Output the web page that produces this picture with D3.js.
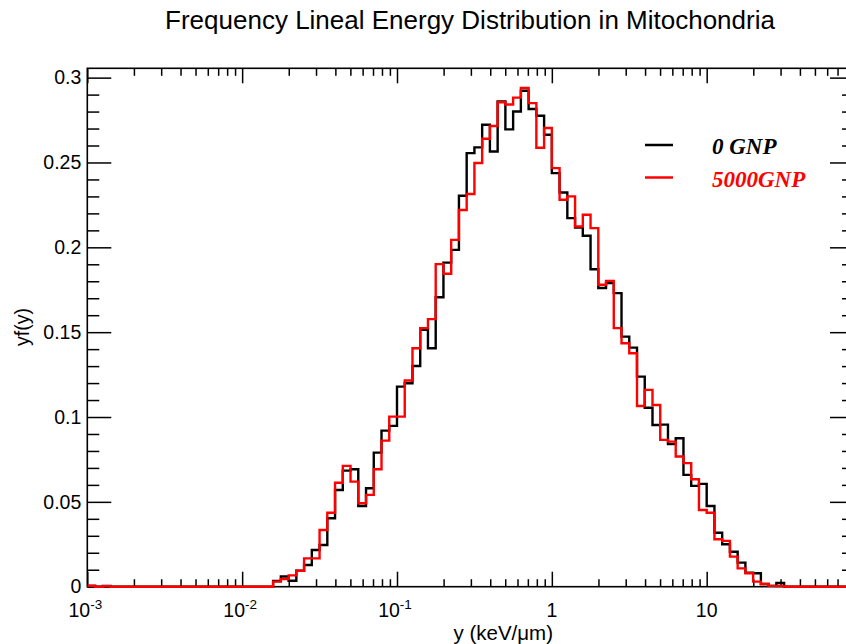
<!DOCTYPE html>
<html>
<head>
<meta charset="utf-8">
<script src="https://cdn.jsdelivr.net/npm/d3@7"></script>
<style>
  html, body { margin: 0; padding: 0; background: #fff; }
  svg { display: block; }
</style>
</head>
<body>
<div id="chart"></div>
<script>
// ---------------- data ----------------
const chartTitle = "Frequency Lineal Energy Distribution in Mitochondria";
const xTitle = "y (keV/\u03bcm)";
const yTitle = "yf(y)";
const xDomain = [0.001, 89.4];
const yDomain = [0, 0.3055];
const firstBinLowEdge = 0.001;
const binsPerDecade = 20;

// bin contents (bin 0 starts at 1e-3, 20 log bins per decade)
const gnp0 = [
  0.0005, 0, 0.0005, 0, 0, 0, 0, 0, 0, 0,
  0, 0, 0, 0, 0, 0, 0, 0, 0, 0,
  0, 0, 0, 0, 0.0034, 0.006, 0.0035, 0.0094, 0.0128, 0.0216,
  0.0246, 0.0403, 0.057, 0.0684, 0.0692, 0.0476, 0.058, 0.079, 0.092, 0.0948,
  0.1179, 0.1199, 0.1301, 0.1514, 0.1405, 0.1706, 0.191, 0.1985, 0.2304, 0.2555,
  0.2589, 0.2722, 0.2565, 0.286, 0.2695, 0.280, 0.2923, 0.2815, 0.2775, 0.2663,
  0.2437, 0.2323, 0.2172, 0.2117, 0.2068, 0.1871, 0.176, 0.1789, 0.173, 0.1474,
  0.1409, 0.1238, 0.1055, 0.0953, 0.0955, 0.084, 0.0875, 0.0659, 0.0594, 0.0606,
  0.0476, 0.0318, 0.025, 0.0206, 0.0142, 0.0083, 0.0079, 0.0016, 0.0005, 0.0022,
  0, 0, 0, 0, 0, 0, 0, 0, 0, 0
];
const gnp5000 = [
  0.0006, 0, 0.0003, 0, 0, 0, 0, 0, 0, 0,
  0, 0, 0, 0, 0, 0, 0, 0, 0, 0,
  0, 0, 0, 0, 0.003, 0.0045, 0.0067, 0.0094, 0.0167, 0.0167,
  0.0334, 0.0436, 0.0613, 0.0712, 0.0619, 0.0492, 0.0541, 0.0692, 0.0861, 0.1002,
  0.1002, 0.1215, 0.1405, 0.1524, 0.1577, 0.1901, 0.1844, 0.2044, 0.222, 0.2314,
  0.2497, 0.264, 0.2715, 0.2855, 0.2842, 0.2882, 0.2939, 0.285, 0.2587, 0.2703,
  0.2467, 0.228, 0.23, 0.2123, 0.2192, 0.2113, 0.1779, 0.1802, 0.1524, 0.1435,
  0.1376, 0.1065, 0.116, 0.1071, 0.0865, 0.0855, 0.0767, 0.0728, 0.0633, 0.0452,
  0.0436, 0.028, 0.027, 0.0177, 0.0108, 0.0079, 0.003, 0.0016, 0.0005, 0.0004,
  0, 0, 0, 0, 0, 0, 0, 0, 0, 0
];
const seriesNames = ["0 GNP", "5000GNP"];
const seriesColors = ["#000000", "#ff0000"];

const yMajorTicks = [0, 0.05, 0.1, 0.15, 0.2, 0.25, 0.3];
const yTickLabels = ["0", "0.05", "0.1", "0.15", "0.2", "0.25", "0.3"];
const yMinorTicks = [0.01,0.02,0.03,0.04,0.06,0.07,0.08,0.09,0.11,0.12,0.13,0.14,0.16,0.17,0.18,0.19,0.21,0.22,0.23,0.24,0.26,0.27,0.28,0.29];
const xMajorTicks = [0.001, 0.01, 0.1, 1, 10];
const xTickBase = ["10", "10", "10", "1", "10"];
const xTickSup = ["-3", "-2", "-1", "", ""];
const xMinorMultipliers = [2, 3, 4, 5, 6, 7, 8, 9];

// ---------------- layout ----------------
const W = 846, H = 644;
const L = 87.3, R = 854, T = 68.3, B = 586.7;
const SANS = "'Liberation Sans', Arial, Helvetica, sans-serif";
const SERIF = "'Liberation Serif', 'Times New Roman', Times, serif";

const svg = d3.select("#chart").append("svg")
  .attr("width", W).attr("height", H)
  .attr("viewBox", `0 0 ${W} ${H}`);

const x = d3.scaleLog().domain(xDomain).range([L, R]);
const y = d3.scaleLinear().domain(yDomain).range([B, T]);

const xMinorTicks = [];
xMajorTicks.forEach(d => xMinorMultipliers.forEach(m => {
  const v = d * m;
  if (v < xDomain[1]) xMinorTicks.push(v);
}));

// title
svg.append("text")
  .attr("x", 470).attr("y", 29)
  .attr("text-anchor", "middle")
  .style("font-family", SANS)
  .style("font-size", "26px")
  .attr("fill", "#000")
  .text(chartTitle);

// clip region for histograms
svg.append("defs").append("clipPath").attr("id", "plotclip")
  .append("rect").attr("x", L).attr("y", T - 2).attr("width", R - L).attr("height", B - T + 4);

// frame
svg.append("rect")
  .attr("x", L).attr("y", T).attr("width", R - L).attr("height", B - T)
  .attr("fill", "none").attr("stroke", "#000").attr("stroke-width", 1.6);

function styleAxis(g) {
  g.select(".domain").remove();
  g.selectAll(".tick line").attr("stroke", "#000").attr("stroke-width", 1.5);
}

// left axis (major)
svg.append("g").attr("transform", `translate(${L},0)`)
  .call(d3.axisLeft(y).tickValues(yMajorTicks).tickSize(-24).tickSizeOuter(0).tickPadding(6)
    .tickFormat((d, i) => yTickLabels[i]))
  .call(styleAxis)
  .call(g => g.selectAll("text").attr("fill", "#000")
    .style("font-family", SANS).style("font-size", "19.5px"));
// left minor
svg.append("g").attr("transform", `translate(${L},0)`)
  .call(d3.axisLeft(y).tickValues(yMinorTicks).tickSize(-12).tickSizeOuter(0).tickFormat(""))
  .call(styleAxis);
// right axis
svg.append("g").attr("transform", `translate(${R},0)`)
  .call(d3.axisRight(y).tickValues(yMajorTicks).tickSize(-24).tickSizeOuter(0).tickFormat(""))
  .call(styleAxis);
svg.append("g").attr("transform", `translate(${R},0)`)
  .call(d3.axisRight(y).tickValues(yMinorTicks).tickSize(-12).tickSizeOuter(0).tickFormat(""))
  .call(styleAxis);

// bottom axis
svg.append("g").attr("transform", `translate(0,${B})`)
  .call(d3.axisBottom(x).tickValues(xMajorTicks).tickSize(-15).tickSizeOuter(0).tickFormat(""))
  .call(styleAxis);
svg.append("g").attr("transform", `translate(0,${B})`)
  .call(d3.axisBottom(x).tickValues(xMinorTicks).tickSize(-7.5).tickSizeOuter(0).tickFormat(""))
  .call(styleAxis);
// top axis
svg.append("g").attr("transform", `translate(0,${T})`)
  .call(d3.axisTop(x).tickValues(xMajorTicks).tickSize(-15).tickSizeOuter(0).tickFormat(""))
  .call(styleAxis);
svg.append("g").attr("transform", `translate(0,${T})`)
  .call(d3.axisTop(x).tickValues(xMinorTicks).tickSize(-7.5).tickSizeOuter(0).tickFormat(""))
  .call(styleAxis);

// x tick labels with superscripts
const xl = svg.append("g");
xMajorTicks.forEach((d, i) => {
  const t = xl.append("text")
    .attr("x", x(d) - (xTickSup[i] ? 2 : 0)).attr("y", 617)
    .attr("text-anchor", "middle")
    .style("font-family", SANS).style("font-size", "19.5px")
    .attr("fill", "#000");
  t.append("tspan").text(xTickBase[i]);
  if (xTickSup[i]) {
    t.append("tspan").attr("dy", -8).style("font-size", "13.5px").text(xTickSup[i]);
  }
});

// axis titles
svg.append("text")
  .attr("x", 553).attr("y", 640)
  .attr("text-anchor", "end")
  .style("font-family", SANS).style("font-size", "20.5px")
  .attr("fill", "#000")
  .text(xTitle);
svg.append("text")
  .attr("transform", `translate(29,327) rotate(-90)`)
  .attr("text-anchor", "middle")
  .style("font-family", SANS).style("font-size", "19.5px")
  .attr("fill", "#000")
  .text(yTitle);

// histograms
function binEdge(i) { return firstBinLowEdge * Math.pow(10, i / binsPerDecade); }
function histPoints(vals) {
  const pts = vals.map((v, i) => [binEdge(i), v]);
  pts.push([binEdge(vals.length), vals[vals.length - 1]]);
  return pts;
}
const line = d3.line()
  .x(d => x(d[0])).y(d => y(d[1]))
  .curve(d3.curveStepAfter);

const hg = svg.append("g").attr("clip-path", "url(#plotclip)");
[gnp0, gnp5000].forEach((vals, k) => {
  hg.append("path")
    .attr("d", line(histPoints(vals)))
    .attr("fill", "none")
    .attr("stroke", seriesColors[k])
    .attr("stroke-width", 2.4)
    .attr("stroke-linejoin", "miter");
});

// legend
const legend = svg.append("g");
const legendRows = [145, 177.5];
seriesNames.forEach((name, k) => {
  legend.append("line")
    .attr("x1", 645).attr("x2", 673)
    .attr("y1", legendRows[k]).attr("y2", legendRows[k])
    .attr("stroke", seriesColors[k]).attr("stroke-width", 2.5);
  legend.append("text")
    .attr("x", 712).attr("y", legendRows[k] + 9)
    .style("font-family", SERIF)
    .style("font-weight", "bold").style("font-style", "italic")
    .style("font-size", "23px")
    .attr("fill", seriesColors[k])
    .text(name);
});
</script>
</body>
</html>
